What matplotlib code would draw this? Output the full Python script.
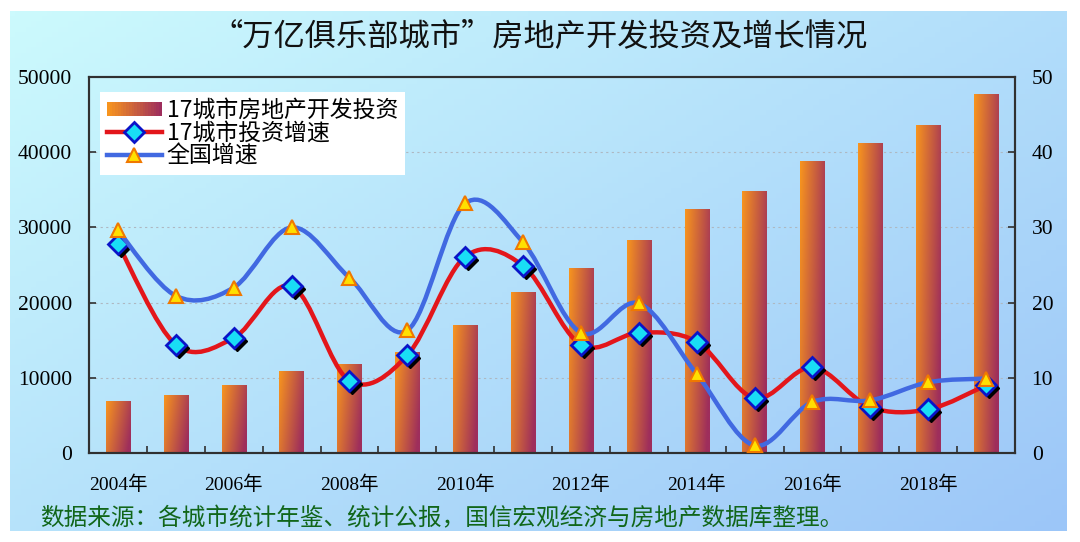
import numpy as np
import matplotlib
matplotlib.use("Agg")
import matplotlib.pyplot as plt
from matplotlib.path import Path
from matplotlib.patches import PathPatch, Patch, Rectangle
from matplotlib.lines import Line2D
from matplotlib import transforms

plt.rcParams['font.family'] = ['Liberation Serif', 'Noto Sans CJK SC', 'DejaVu Sans']

years = list(range(2004, 2020))
year_labels = [f"{y}年" for y in years]
investment = [6800, 7700, 9000, 10800, 11800, 13400, 17000, 21300,
              24500, 28300, 32400, 34800, 38800, 41100, 43500, 47700]
city_growth = [27.8, 14.4, 15.3, 22.2, 9.6, 13.0, 26.1, 24.9,
               14.4, 16.0, 14.8, 7.3, 11.4, 6.1, 5.8, 9.0]
national_growth = [29.6, 20.9, 22.0, 30.0, 23.3, 16.3, 33.2, 28.0,
                   16.0, 19.9, 10.5, 1.0, 6.8, 7.0, 9.4, 9.9]

BAR_LEFT = np.array([247, 148, 30]) / 255
BAR_RIGHT = np.array([158, 46, 92]) / 255
CJK = ['Noto Sans CJK SC', 'DejaVu Sans']


def bar_gradient(nr=60, nc=24):
    c = np.linspace(0, 1, nc)[None, :]
    r = np.linspace(0, 1, nr)[:, None]
    t = np.clip(0.8 * c + 0.3 * r, 0, 1)[..., None]
    return BAR_LEFT * (1 - t) + BAR_RIGHT * t


def smooth_path(xs, ys):
    # Bezier segments through every point (Excel style smoothed line)
    p = np.column_stack([xs, ys]).astype(float)
    p_ext = np.vstack([p[0], p, p[-1]])
    verts = [p[0]]
    codes = [Path.MOVETO]
    for i in range(len(p) - 1):
        p0, p1, p2, p3 = p_ext[i], p_ext[i + 1], p_ext[i + 2], p_ext[i + 3]
        verts += [p1 + (p2 - p0) / 6, p2 - (p3 - p1) / 6, p2]
        codes += [Path.CURVE4] * 3
    return Path(verts, codes)


class GradientHandler:
    def legend_artist(self, legend, orig_handle, fontsize, handlebox):
        x0, y0 = handlebox.xdescent, handlebox.ydescent
        w, h = handlebox.width, handlebox.height
        n = 20
        for k in range(n):
            t = k / (n - 1)
            rect = Rectangle((x0 + w * k / n, y0 + h * 0.05), w / n + 0.3, h * 0.9,
                             facecolor=BAR_LEFT * (1 - t) + BAR_RIGHT * t,
                             edgecolor='none', transform=handlebox.get_transform())
            handlebox.add_artist(rect)
        return rect


fig = plt.figure(figsize=(10.8, 5.42), dpi=100)
fig.patch.set_facecolor('white')

# background panel with diagonal gradient
bg = fig.add_axes([10 / 1080, 11 / 542, 1057 / 1080, 520 / 542], zorder=0)
gx = np.linspace(0, 1, 200)[None, :]
gy = np.linspace(0, 1, 100)[:, None]
gt = np.clip(0.55 * gx + 0.45 * gy, 0, 1)[..., None]
top_left = np.array([204, 250, 253]) / 255
bottom_right = np.array([156, 198, 248]) / 255
bg.imshow(top_left * (1 - gt) + bottom_right * gt, aspect='auto', extent=[0, 1, 0, 1])
bg.axis('off')

ax = fig.add_axes([89 / 1080, 1 - 453 / 542, 926 / 1080, 376 / 542], zorder=1)
ax.patch.set_visible(False)
x = np.arange(len(years))

bars = ax.bar(x, investment, width=0.42, color='none', zorder=2)
grad = bar_gradient()
for b in bars:
    ax.imshow(grad, extent=[b.get_x(), b.get_x() + b.get_width(), 0, b.get_height()],
              aspect='auto', zorder=2)

ax.set_xlim(-0.5, len(years) - 0.5)
ax.set_ylim(0, 50000)
ax.set_yticks(range(0, 50001, 10000))
for v in range(10000, 50000, 10000):
    ax.axhline(v, color='#AEB8C2', lw=0.8, ls=(0, (2, 3)), zorder=1)

ax.set_xticks(x[::2])
ax.set_xticklabels(year_labels[::2], fontsize=14)
ax.set_xticks(np.arange(-0.5, len(years), 1), minor=True)
ax.tick_params(axis='x', which='major', length=0, pad=16)
ax.tick_params(axis='x', which='minor', direction='in', length=5, width=1.2, color='#303030')
ax.tick_params(axis='y', direction='in', length=5, width=1.2, color='#303030',
               labelsize=15.5, pad=12)

ax2 = ax.twinx()
ax2.set_zorder(2)
ax2.set_ylim(0, 50)
ax2.set_yticks(range(0, 51, 10))
ax2.tick_params(axis='y', direction='in', length=5, width=1.2, color='#303030',
                labelsize=15.5, pad=12)

for a in (ax, ax2):
    for s in a.spines.values():
        s.set_color('#303030')
        s.set_linewidth(1.5)

red = '#E3161B'
blue = '#4169E1'
shadow = transforms.offset_copy(ax2.transData, fig=fig, x=3, y=-3, units='dots')

ax2.add_patch(PathPatch(smooth_path(x, city_growth), facecolor='none', edgecolor=red,
                        lw=3.2, zorder=3, capstyle='round', joinstyle='round'))
ax2.plot(x, city_growth, ls='none', marker='D', ms=10, color='black', transform=shadow, zorder=4)
ax2.plot(x, city_growth, ls='none', marker='D', ms=10, mfc='#19DDF5', mec='#0A14C8',
         mew=2, zorder=5)

ax2.add_patch(PathPatch(smooth_path(x, national_growth), facecolor='none', edgecolor=blue,
                        lw=3.2, zorder=6, capstyle='round', joinstyle='round'))
ax2.plot(x, national_growth, ls='none', marker='^', ms=10, mfc='#FFE000', mec='#F07800',
         mew=1.5, zorder=7)

handles = [
    Patch(label='17城市房地产开发投资'),
    Line2D([], [], color=red, lw=3.2, marker='D', ms=10, mfc='#19DDF5', mec='#0A14C8', mew=2,
           label='17城市投资增速'),
    Line2D([], [], color=blue, lw=3.2, marker='^', ms=10, mfc='#FFE000', mec='#F07800', mew=1.5,
           label='全国增速'),
]
leg = ax2.legend(handles=handles, loc='upper left', bbox_to_anchor=(0.012, 0.96),
                 prop={'family': CJK, 'size': 16.5}, handlelength=2.4, handletextpad=0.2,
                 labelspacing=0.0, borderpad=0.3, borderaxespad=0, fancybox=False,
                 framealpha=1, edgecolor='none', facecolor='white',
                 handler_map={Patch: GradientHandler()})

fig.text(0.5, 1 - 36 / 542, '“万亿俱乐部城市”房地产开发投资及增长情况', ha='center', va='center',
         fontsize=22.5, family=CJK, color='#111111')
fig.text(40 / 1080, 1 - 519 / 542, '数据来源：各城市统计年鉴、统计公报，国信宏观经济与房地产数据库整理。',
         ha='left', va='center', fontsize=17, family=CJK, color='#11661A')

fig.savefig('out.png', dpi=100)
